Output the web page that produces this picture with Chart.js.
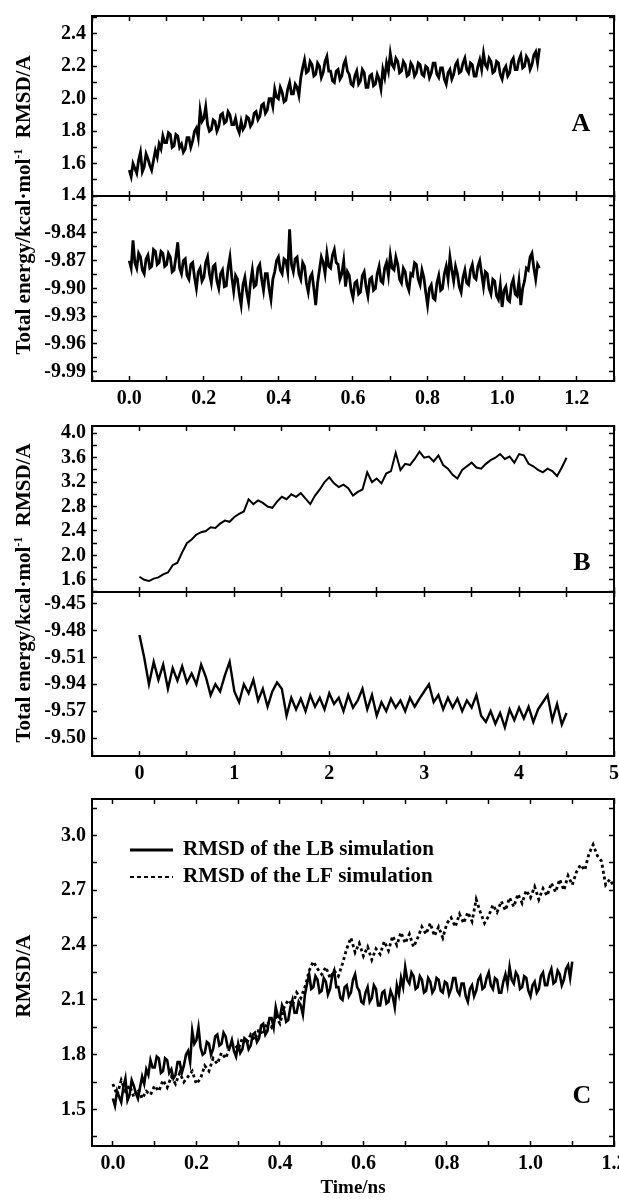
<!DOCTYPE html>
<html>
<head>
<meta charset="utf-8">
<script src="https://cdn.jsdelivr.net/npm/chart.js@4.4.1/dist/chart.umd.min.js"></script>
<style>
  body { margin: 0; background: #fff; }
  #wrap { position: relative; width: 619px; height: 1200px; overflow: hidden;
    font-family: "Liberation Serif", "Times New Roman", serif; font-weight: bold; color: #000; }
  canvas { position: absolute; left: 0; }
  .ytitle { position: absolute; white-space: nowrap; font-size: 21px;
    transform: translate(-50%, -50%) rotate(-90deg); }
  .ytitle sup { font-size: 12px; }
  .tag { position: absolute; font-size: 26px; transform: translate(-50%, -50%); }
</style>
</head>
<body>
<div id="wrap">
  <canvas id="aTop" width="619" height="200" style="top:0px"></canvas>
  <canvas id="aBot" width="619" height="225" style="top:190px"></canvas>
  <canvas id="bTop" width="619" height="180" style="top:416px"></canvas>
  <canvas id="bBot" width="619" height="204" style="top:586px"></canvas>
  <canvas id="cMain" width="619" height="410" style="top:790px"></canvas>

  <div class="ytitle" style="left:23px;top:205px">Total energy/kcal·mol<sup>-1</sup>&nbsp;&nbsp;RMSD/A</div>
  <div class="ytitle" style="left:23px;top:593px">Total energy/kcal·mol<sup>-1</sup>&nbsp;&nbsp;RMSD/A</div>
  <div class="ytitle" style="left:23px;top:976px">RMSD/A</div>
  <div class="tag" style="left:581px;top:123px">A</div>
  <div class="tag" style="left:582px;top:562px">B</div>
  <div class="tag" style="left:582px;top:1095px">C</div>
</div>
<script>
// sampling of the trajectories (ns)
const stepA = 0.005;  // panel A (also LB in panel C)
const stepLF = 0.01;  // LF run in panel C
const stepB = 0.05;   // panel B

// panel A, 1.1 ns run (also the LB curve in panel C)
const rmsdA = [
  1.56, 1.52, 1.60, 1.57, 1.54, 1.62, 1.67, 1.55, 1.58, 1.66, 1.63, 1.59, 1.56, 1.62, 1.68, 1.64, 1.72, 1.69, 1.77, 1.73,
  1.73, 1.79, 1.78, 1.70, 1.71, 1.78, 1.77, 1.70, 1.72, 1.67, 1.69, 1.76, 1.76, 1.70, 1.74, 1.80, 1.82, 1.76, 1.93, 1.86,
  1.88, 1.95, 1.84, 1.80, 1.81, 1.87, 1.86, 1.80, 1.83, 1.90, 1.91, 1.85, 1.86, 1.92, 1.90, 1.84, 1.84, 1.88, 1.82, 1.79,
  1.86, 1.81, 1.83, 1.89, 1.88, 1.83, 1.85, 1.91, 1.92, 1.87, 1.89, 1.96, 1.97, 1.91, 1.93, 2.00, 2.00, 1.95, 2.06, 2.01,
  2.00, 2.07, 2.04, 1.98, 1.99, 2.06, 2.10, 2.03, 2.03, 2.09, 2.07, 2.02, 2.13, 2.19, 2.24, 2.16, 2.17, 2.23, 2.21, 2.14,
  2.15, 2.22, 2.20, 2.13, 2.16, 2.23, 2.26, 2.17, 2.17, 2.11, 2.10, 2.17, 2.18, 2.12, 2.14, 2.21, 2.24, 2.17, 2.15, 2.09,
  2.08, 2.14, 2.17, 2.09, 2.11, 2.18, 2.16, 2.07, 2.07, 2.14, 2.15, 2.08, 2.09, 2.15, 2.12, 2.06, 2.18, 2.13, 2.22, 2.17,
  2.28, 2.21, 2.19, 2.25, 2.23, 2.16, 2.17, 2.23, 2.21, 2.14, 2.15, 2.22, 2.20, 2.14, 2.16, 2.22, 2.21, 2.15, 2.14, 2.20,
  2.19, 2.13, 2.16, 2.22, 2.22, 2.15, 2.13, 2.19, 2.19, 2.12, 2.09, 2.16, 2.18, 2.12, 2.15, 2.21, 2.23, 2.16, 2.17, 2.22,
  2.25, 2.18, 2.16, 2.22, 2.21, 2.14, 2.14, 2.20, 2.24, 2.18, 2.28, 2.21, 2.19, 2.25, 2.23, 2.16, 2.17, 2.23, 2.22, 2.15,
  2.12, 2.18, 2.20, 2.14, 2.16, 2.23, 2.25, 2.18, 2.18, 2.24, 2.27, 2.19, 2.20, 2.26, 2.24, 2.18, 2.21, 2.27, 2.29, 2.22,
  2.31
];
const energyA = [
  -9.870, -9.878, -9.848, -9.872, -9.878, -9.862, -9.866, -9.880, -9.884, -9.868, -9.864, -9.878, -9.876, -9.858, -9.860, -9.874, -9.872, -9.860, -9.862, -9.876,
  -9.874, -9.862, -9.866, -9.882, -9.880, -9.866, -9.850, -9.878, -9.884, -9.870, -9.868, -9.886, -9.890, -9.874, -9.872, -9.888, -9.900, -9.882, -9.878, -9.892,
  -9.888, -9.872, -9.866, -9.884, -9.894, -9.876, -9.874, -9.892, -9.900, -9.884, -9.880, -9.898, -9.897, -9.878, -9.866, -9.888, -9.903, -9.886, -9.890, -9.906,
  -9.918, -9.896, -9.888, -9.904, -9.915, -9.894, -9.880, -9.898, -9.896, -9.878, -9.874, -9.890, -9.902, -9.884, -9.884, -9.900, -9.912, -9.890, -9.882, -9.870,
  -9.866, -9.880, -9.884, -9.868, -9.870, -9.882, -9.836, -9.874, -9.882, -9.868, -9.866, -9.884, -9.890, -9.872, -9.876, -9.894, -9.904, -9.888, -9.884, -9.900,
  -9.918, -9.894, -9.880, -9.866, -9.872, -9.884, -9.862, -9.876, -9.878, -9.864, -9.858, -9.872, -9.874, -9.890, -9.884, -9.870, -9.898, -9.882, -9.886, -9.902,
  -9.910, -9.894, -9.892, -9.906, -9.904, -9.886, -9.882, -9.898, -9.908, -9.890, -9.888, -9.902, -9.900, -9.884, -9.876, -9.892, -9.894, -9.878, -9.872, -9.886,
  -9.864, -9.878, -9.880, -9.866, -9.874, -9.890, -9.894, -9.878, -9.882, -9.896, -9.902, -9.884, -9.886, -9.872, -9.874, -9.890, -9.896, -9.880, -9.888, -9.904,
  -9.918, -9.900, -9.896, -9.910, -9.912, -9.894, -9.886, -9.902, -9.900, -9.884, -9.876, -9.890, -9.866, -9.880, -9.892, -9.876, -9.884, -9.898, -9.904, -9.888,
  -9.880, -9.894, -9.896, -9.880, -9.874, -9.888, -9.890, -9.876, -9.870, -9.884, -9.898, -9.882, -9.884, -9.900, -9.906, -9.890, -9.892, -9.908, -9.912, -9.896,
  -9.920, -9.902, -9.898, -9.912, -9.914, -9.896, -9.890, -9.906, -9.908, -9.892, -9.918, -9.900, -9.892, -9.878, -9.880, -9.866, -9.862, -9.878, -9.890, -9.874,
  -9.878
];

// panel B, 4.5 ns run
const rmsdB = [
  1.65, 1.60, 1.58, 1.62, 1.64, 1.69, 1.72, 1.84, 1.88, 2.05,
  2.20, 2.26, 2.34, 2.38, 2.40, 2.46, 2.45, 2.52, 2.57, 2.55,
  2.63, 2.68, 2.72, 2.92, 2.84, 2.90, 2.86, 2.80, 2.78, 2.88,
  2.96, 2.92, 3.00, 2.96, 3.02, 2.93, 2.84, 2.98, 3.08, 3.20,
  3.28, 3.18, 3.12, 3.16, 3.10, 2.98, 3.04, 3.08, 3.36, 3.20,
  3.26, 3.18, 3.34, 3.38, 3.68, 3.40, 3.50, 3.48, 3.58, 3.70,
  3.60, 3.62, 3.54, 3.64, 3.48, 3.42, 3.32, 3.26, 3.40, 3.46,
  3.52, 3.44, 3.42, 3.50, 3.56, 3.60, 3.66, 3.58, 3.62, 3.52,
  3.66, 3.64, 3.50, 3.46, 3.40, 3.36, 3.42, 3.38, 3.30, 3.44,
  3.60
];
const energyB = [
  -9.485, -9.510, -9.540, -9.515, -9.535, -9.518, -9.545, -9.522, -9.536, -9.520,
  -9.538, -9.528, -9.540, -9.518, -9.532, -9.552, -9.540, -9.548, -9.530, -9.515,
  -9.548, -9.560, -9.540, -9.550, -9.535, -9.558, -9.545, -9.565, -9.548, -9.538,
  -9.545, -9.575, -9.555, -9.568, -9.556, -9.570, -9.552, -9.565, -9.555, -9.568,
  -9.550, -9.562, -9.555, -9.570, -9.552, -9.566, -9.558, -9.545, -9.568, -9.552,
  -9.575, -9.560, -9.570, -9.556, -9.566, -9.558, -9.570, -9.555, -9.565, -9.556,
  -9.548, -9.540, -9.560, -9.552, -9.568, -9.555, -9.566, -9.556, -9.570, -9.558,
  -9.566, -9.552, -9.575, -9.582, -9.570, -9.584, -9.572, -9.588, -9.568, -9.580,
  -9.566, -9.578, -9.565, -9.582, -9.568, -9.560, -9.552, -9.580, -9.562, -9.585,
  -9.572
];
// the printed energy ticks of panel B (labels as printed in the figure)
const energyBTicks = [-9.45, -9.48, -9.51, -9.54, -9.57, -9.60];
const energyBLabels = ["-9.45", "-9.48", "-9.51", "-9.94", "-9.57", "-9.50"];

// panel C, LF run
const rmsdLF = [
  1.64, 1.58, 1.66, 1.60, 1.63, 1.57, 1.61, 1.56, 1.60, 1.58,
  1.63, 1.60, 1.66, 1.62, 1.68, 1.64, 1.70, 1.65, 1.68, 1.71,
  1.64, 1.67, 1.74, 1.71, 1.78, 1.75, 1.81, 1.78, 1.84, 1.86,
  1.83, 1.89, 1.86, 1.91, 1.88, 1.94, 1.91, 1.98, 1.95, 2.01,
  1.97, 2.06, 2.10, 2.07, 2.14, 2.11, 2.17, 2.26, 2.31, 2.27,
  2.24, 2.28, 2.22, 2.26, 2.23, 2.30, 2.38, 2.44, 2.36, 2.41,
  2.34, 2.39, 2.32, 2.38, 2.35, 2.42, 2.37, 2.45, 2.40, 2.47,
  2.41, 2.46, 2.39, 2.44, 2.50, 2.46, 2.52, 2.45, 2.50, 2.44,
  2.52, 2.55, 2.50, 2.57, 2.52, 2.58, 2.53, 2.65, 2.58, 2.52,
  2.56, 2.62, 2.58, 2.64, 2.59, 2.66, 2.61, 2.68, 2.63, 2.70,
  2.66, 2.72, 2.65, 2.71, 2.67, 2.74, 2.69, 2.76, 2.70, 2.78,
  2.73, 2.80, 2.84, 2.81, 2.90, 2.95, 2.89, 2.86, 2.73, 2.76,
  2.72
];
const legendLabels = ["RMSD of the LB simulation", "RMSD of the LF simulation"];

Chart.defaults.font.family = '"Liberation Serif", "Times New Roman", serif';
Chart.defaults.font.weight = "bold";
Chart.defaults.color = "#000";

const toXY = (vals, step) => vals.map((v, i) => ({ x: +(i * step).toFixed(3), y: v }));

// tick label formatters (minor ticks get an empty label)
const evenTenths = (v) => (Math.abs(Math.round(v * 10)) % 2 === 0 ? v.toFixed(1) : "");
const energyATick = (v) => (v < -9.835 && Math.round(v * 1000) % 30 === 0 ? v.toFixed(2) : "");
const rmsdBTick = (v) => (Math.round(v * 10) % 4 === 0 ? v.toFixed(1) : "");
const timeBTick = (v) => (Math.round(v * 2) % 2 === 0 ? String(Math.round(v)) : "");
const energyBTick = (v) => {
  const i = energyBTicks.findIndex((t) => Math.abs(t - v) < 1e-6);
  return i < 0 ? "" : energyBLabels[i];
};
const rmsdCTick = (v) => (Math.round(v * 100) % 30 === 0 ? v.toFixed(1) : "");

// one frame edge with inward ticks
function edge(pos, range, step, size, label) {
  const horizontal = pos === "top" || pos === "bottom";
  return {
    type: "linear",
    position: pos,
    min: range[0],
    max: range[1],
    ticks: {
      display: !!label,
      stepSize: step,
      includeBounds: false,
      autoSkip: false,
      maxRotation: 0,
      padding: 11,
      font: { size: 20 },
      callback: label || (() => ""),
    },
    grid: { drawOnChartArea: false, tickLength: -5, tickWidth: 1.5, tickColor: "#000" },
    border: { width: 2, color: "#000" },
    afterFit: (s) => {
      if (horizontal) s.height = size;
      else s.width = size;
      s.paddingLeft = s.paddingRight = s.paddingTop = s.paddingBottom = 0;
    },
  };
}

const line = (data, width, dash) => ({
  data,
  borderColor: "#000",
  borderWidth: width,
  borderDash: dash || [],
  pointRadius: 0,
  tension: 0,
});

// legend drawn inside the plot, top left
const innerLegend = {
  id: "innerLegend",
  afterDatasetsDraw(chart, args, opts) {
    const { ctx, chartArea } = chart;
    ctx.save();
    chart.data.datasets.forEach((ds, i) => {
      const x = chartArea.left + opts.left;
      const y = chartArea.top + opts.top + i * opts.gap;
      ctx.beginPath();
      ctx.setLineDash(opts.dashes[i]);
      ctx.lineWidth = opts.widths[i];
      ctx.strokeStyle = "#000";
      ctx.moveTo(x, y);
      ctx.lineTo(x + opts.sample, y);
      ctx.stroke();
      ctx.setLineDash([]);
      ctx.fillStyle = "#000";
      ctx.font = 'bold 21px "Liberation Serif", serif';
      ctx.textBaseline = "middle";
      ctx.fillText(ds.label, x + opts.sample + 10, y);
    });
    ctx.restore();
  },
};

function makePanel(id, datasets, scales, extra) {
  return new Chart(document.getElementById(id), {
    type: "line",
    data: { datasets },
    options: {
      responsive: false,
      animation: false,
      layout: { padding: 0 },
      plugins: Object.assign({ legend: { display: false }, tooltip: { enabled: false } }, extra ? extra.opts : {}),
      scales,
    },
    plugins: extra ? [extra.plugin] : [],
  });
}

const rangeXA = [-0.1, 1.3];
const rangeXB = [-0.5, 5.0];
const rangeXC = [-0.05, 1.2];

// A: RMSD
makePanel("aTop", [line(toXY(rmsdA, stepA), 2.8)], {
  x: edge("bottom", rangeXA, 0.1, 4),
  xTop: edge("top", rangeXA, 0.1, 16),
  y: edge("left", [1.4, 2.51], 0.1, 92, evenTenths),
  yRight: edge("right", [1.4, 2.51], 0.1, 5),
});
// A: energy
makePanel("aBot", [line(toXY(energyA, stepA), 2.8)], {
  x: edge("bottom", rangeXA, 0.1, 34, evenTenths),
  xTop: edge("top", rangeXA, 0.1, 6),
  y: edge("left", [-10.0, -9.8], 0.015, 92, energyATick),
  yRight: edge("right", [-10.0, -9.8], 0.015, 5),
});
// B: RMSD
makePanel("bTop", [line(toXY(rmsdB, stepB), 2)], {
  x: edge("bottom", rangeXB, 0.5, 4),
  xTop: edge("top", rangeXB, 0.5, 10),
  y: edge("left", [1.4, 4.12], 0.2, 92, rmsdBTick),
  yRight: edge("right", [1.4, 4.12], 0.2, 5),
});
// B: energy
makePanel("bBot", [line(toXY(energyB, stepB), 2.4)], {
  x: edge("bottom", rangeXB, 0.5, 34, timeBTick),
  xTop: edge("top", rangeXB, 0.5, 6),
  y: edge("left", [-9.62, -9.437], 0.03, 92, energyBTick),
  yRight: edge("right", [-9.62, -9.437], 0.03, 5),
});
// C: LB vs LF
const xC = edge("bottom", rangeXC, 0.1, 54, evenTenths);
xC.title = { display: true, text: "Time/ns", font: { size: 19 }, padding: { top: 0, bottom: 1 } };
makePanel(
  "cMain",
  [
    Object.assign(line(toXY(rmsdA, stepA), 2.6), { label: legendLabels[0] }),
    Object.assign(line(toXY(rmsdLF, stepLF), 2.8, [3, 3]), { label: legendLabels[1] }),
  ],
  {
    x: xC,
    xTop: edge("top", rangeXC, 0.1, 9),
    y: edge("left", [1.3, 3.2], 0.15, 92, rmsdCTick),
    yRight: edge("right", [1.3, 3.2], 0.15, 5),
  },
  {
    plugin: innerLegend,
    opts: { innerLegend: { left: 38, top: 51, gap: 27, sample: 43, widths: [3.2, 2.2], dashes: [[], [4, 3]] } },
  }
);
</script>
</body>
</html>
